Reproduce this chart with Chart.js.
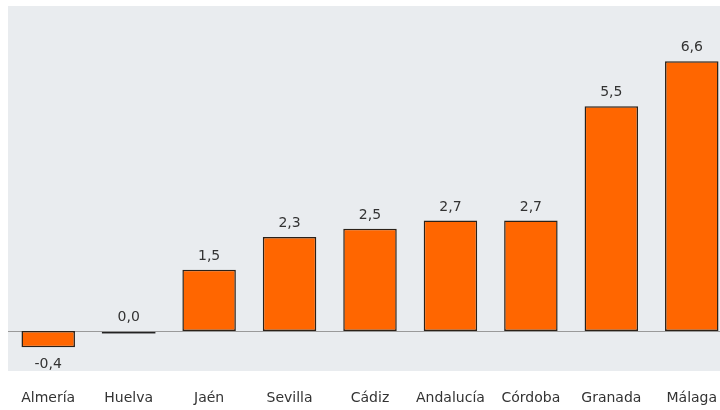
<!DOCTYPE html>
<html>
<head>
<meta charset="utf-8">
<script src="https://cdn.jsdelivr.net/npm/chart.js@4"></script>
<style>
    html, body { margin: 0; padding: 0; background: #fff; overflow: hidden; }
    #wrap { width: 732px; height: 410px; }
</style>
</head>
<body>
<div id="wrap"><canvas id="chart" width="732" height="410"></canvas></div>
<script>
// Provincias y variación
const provincias = ["Almería", "Huelva", "Jaén", "Sevilla", "Cádiz", "Andalucía", "Córdoba", "Granada", "Málaga"];
const valores = [-0.4, 0.0, 1.5, 2.3, 2.5, 2.7, 2.7, 5.5, 6.6];

const fmt = v => v.toFixed(1).replace(".", ",");

// fondo gris del área y línea del cero
const fondo = {
    id: "fondo",
    beforeDraw(chart) {
        const { ctx, chartArea: a } = chart;
        ctx.save();
        ctx.fillStyle = "#e9ecef";
        ctx.fillRect(a.left, a.top, a.right - a.left, a.bottom - a.top);
        ctx.restore();
    },
    beforeDatasetsDraw(chart) {
        const { ctx, chartArea: a, scales } = chart;
        const y0 = Math.round(scales.y.getPixelForValue(0)) + 0.5;
        ctx.save();
        ctx.strokeStyle = "#9a9a9a";
        ctx.lineWidth = 1;
        ctx.beginPath();
        ctx.moveTo(a.left, y0);
        ctx.lineTo(a.right, y0);
        ctx.stroke();
        ctx.restore();
    }
};

// etiquetas de valor
const etiquetas = {
    id: "etiquetas",
    afterDatasetsDraw(chart) {
        const { ctx } = chart;
        const meta = chart.getDatasetMeta(0);
        ctx.save();
        ctx.font = "14px 'DejaVu Sans'";
        ctx.textAlign = "center";
        ctx.textBaseline = "alphabetic";
        meta.data.forEach((bar, i) => {
            const v = valores[i];
            if (v === 0) {
                // barra nula: una raya
                ctx.fillStyle = "#222";
                ctx.fillRect(bar.x - bar.width / 2, bar.base + 1, bar.width, 1.5);
            }
            ctx.fillStyle = "#333";
            if (v < 0) {
                ctx.fillText(fmt(v), bar.x, bar.y + 21);
            } else {
                ctx.fillText(fmt(v), bar.x, bar.y - 10);
            }
        });
        ctx.restore();
    }
};

new Chart(document.getElementById("chart").getContext("2d"), {
    type: "bar",
    data: {
        labels: provincias,
        datasets: [{
            data: valores,
            backgroundColor: "#ff6600",
            borderColor: "#2b2118",
            borderWidth: 1.5,
            borderSkipped: false,
            categoryPercentage: 1,
            barPercentage: 0.665
        }]
    },
    options: {
        responsive: false,
        animation: false,
        layout: { padding: { left: 8, top: 6, right: 0, bottom: 0 } },
        plugins: { legend: { display: false }, tooltip: { enabled: false } },
        scales: {
            y: { display: false, min: -0.98, max: 7.95 },
            x: {
                grid: { display: false, drawTicks: false },
                border: { display: false },
                ticks: { color: "#333", font: { family: "DejaVu Sans", size: 14 }, padding: 19, maxRotation: 0 },
                afterFit: s => { s.height = 39; s.paddingLeft = 0; s.paddingRight = 0; }
            }
        }
    },
    plugins: [fondo, etiquetas]
});
</script>
</body>
</html>
